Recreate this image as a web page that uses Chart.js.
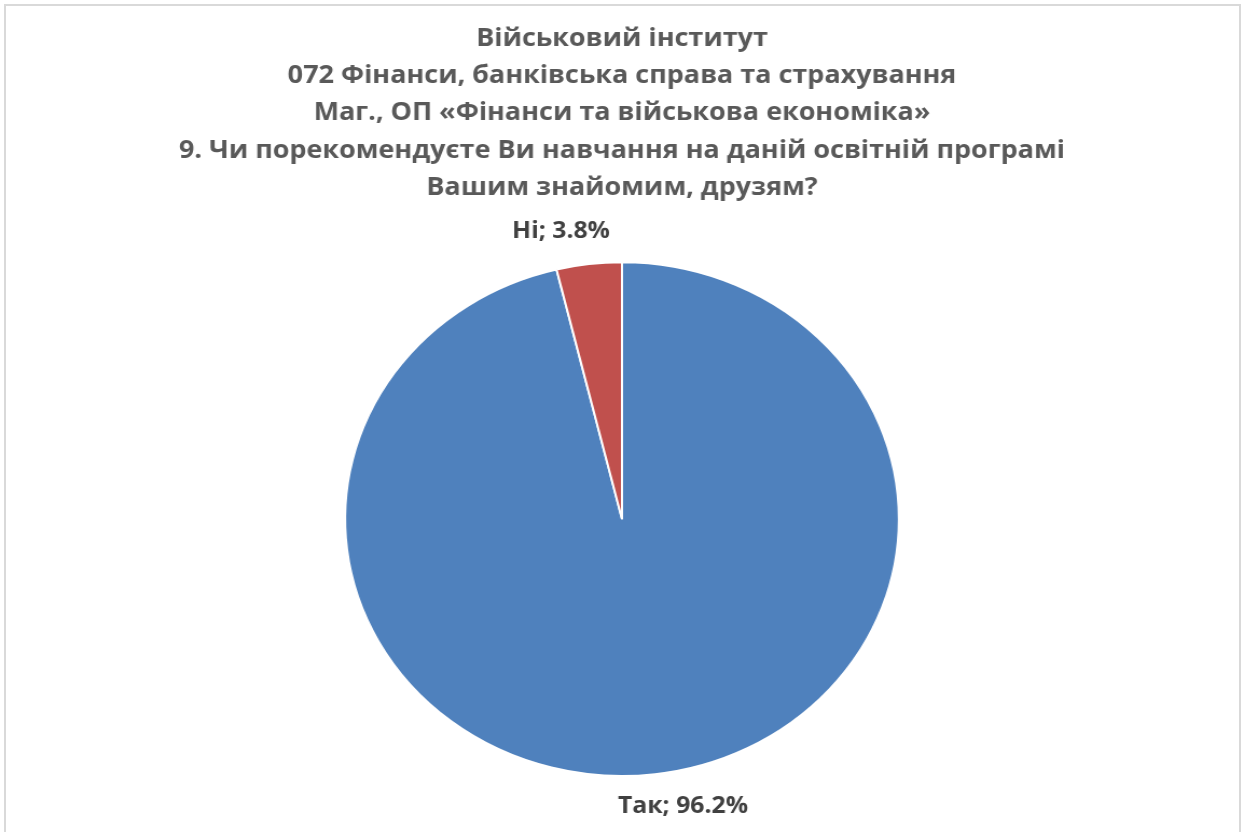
<!DOCTYPE html>
<html>
<head>
<meta charset="utf-8">
<script src="https://cdn.jsdelivr.net/npm/chart.js@4"></script>
<style>
    body { margin: 0; background: #fff; }
    #wrap { position: relative; width: 1244px; height: 832px; overflow: hidden; }
    #frame { position: absolute; left: 4px; top: 4px; width: 1233px; height: 840px; border: 2px solid #d9d9d9; pointer-events: none; }
    canvas { position: absolute; left: 0; top: 0; }
</style>
</head>
<body>
<div id="wrap">
    <canvas id="pieChart" width="1154" height="832" style="width:1244px;height:832px;"></canvas>
    <div id="frame"></div>
</div>
<script>
const titleLines = [
    'Військовий інститут',
    '072 Фінанси, банківська справа та страхування',
    'Маг., ОП «Фінанси та військова економіка»',
    '9. Чи порекомендуєте Ви навчання на даній освітній програмі',
    'Вашим знайомим, друзям?'
];
const categories = ['Так', 'Ні'];
const shares = [96.2, 3.8];

// draws "label; value%" outside each slice, like the Excel data labels
const sliceLabels = {
    id: 'sliceLabels',
    afterDatasetsDraw(chart) {
        const ctx = chart.ctx;
        const meta = chart.getDatasetMeta(0);
        ctx.save();
        ctx.font = 'bold 23px "Open Sans"';
        ctx.fillStyle = '#404040';
        ctx.textAlign = 'center';
        ctx.textBaseline = 'middle';
        meta.data.forEach((arc, i) => {
            const p = arc.getProps(['x', 'y', 'startAngle', 'endAngle', 'outerRadius'], true);
            const mid = (p.startAngle + p.endAngle) / 2;
            const r = p.outerRadius + 33;
            let px = p.x + Math.cos(mid) * r;
            const py = p.y + Math.sin(mid) * r;
            px += Math.sign(Math.cos(mid)) * 22;
            ctx.fillText(categories[i] + '; ' + shares[i].toFixed(1) + '%', px, py);
        });
        ctx.restore();
    }
};

const ctx = document.getElementById('pieChart').getContext('2d');
new Chart(ctx, {
    type: 'pie',
    data: {
        labels: categories,
        datasets: [{
            data: shares,
            backgroundColor: ['#4F81BD', '#C0504D'],
            borderColor: '#ffffff',
            borderWidth: 2
        }]
    },
    options: {
        responsive: false,
        animation: false,
        devicePixelRatio: 1,
        layout: { padding: { top: 0, bottom: 55, left: 0, right: 0 } },
        plugins: {
            legend: { display: false },
            tooltip: { enabled: false },
            title: {
                display: true,
                text: titleLines,
                color: '#595959',
                font: { family: '"Open Sans"', size: 25, weight: 'bold', lineHeight: 1.49 },
                padding: { top: 20, bottom: 55 }
            }
        }
    },
    plugins: [sliceLabels]
});
</script>
</body>
</html>
